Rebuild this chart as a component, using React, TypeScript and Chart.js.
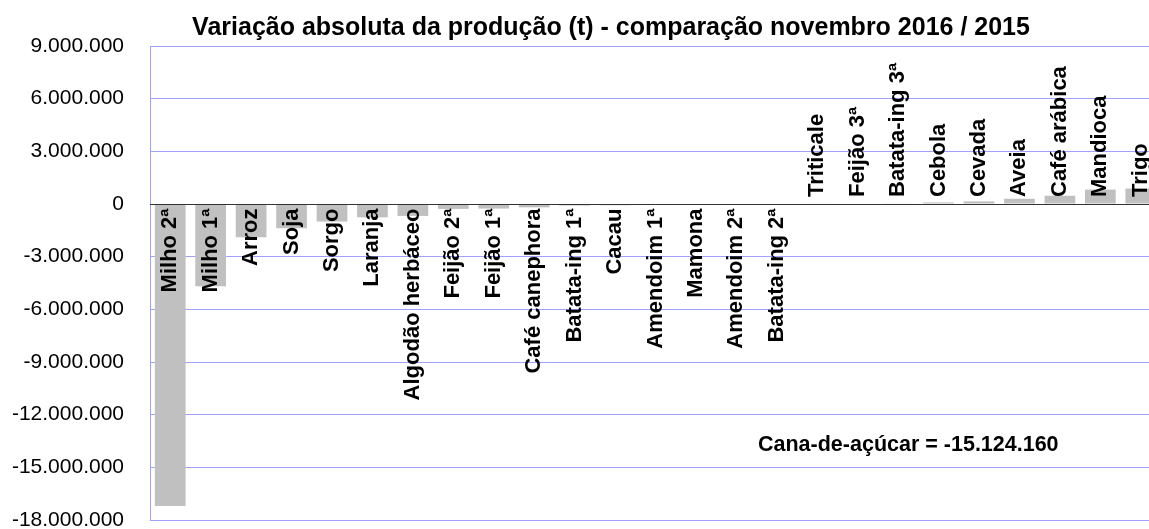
import React, { useEffect, useRef } from "react";
import { Chart, registerables } from "chart.js";

Chart.register(...registerables);

const categories: string[] = [
  "Milho 2ª", "Milho 1ª", "Arroz", "Soja", "Sorgo", "Laranja", "Algodão herbáceo",
  "Feijão 2ª", "Feijão 1ª", "Café canephora", "Batata-ing 1ª", "Cacau", "Amendoim 1ª",
  "Mamona", "Amendoim 2ª", "Batata-ing 2ª", "Triticale", "Feijão 3ª", "Batata-ing 3ª",
  "Cebola", "Cevada", "Aveia", "Café arábica", "Mandioca", "Trigo",
];

const variation: number[] = [
  -17200000, -4690000, -1900000, -1380000, -1000000, -760000, -680000,
  -280000, -260000, -190000, -90000, -70000, -60000,
  -30000, -25000, -20000, 25000, 30000, 35000,
  90000, 150000, 300000, 470000, 820000, 880000,
];

const yMin = -18000000;
const yMax = 9000000;
const yStep = 3000000;

const titleText = "Variação absoluta da produção (t) - comparação novembro 2016 / 2015";
const noteText = "Cana-de-açúcar = -15.124.160";

const FONT = '"Liberation Sans", Arial, sans-serif';

function fmt(v: number): string {
  const s = Math.abs(Math.round(v)).toString().replace(/\B(?=(\d{3})+(?!\d))/g, ".");
  return (v < 0 ? "-" : "") + s;
}

const labelPlugin = {
  id: "customLabels",
  afterDatasetsDraw(chart: any) {
    const ctx = chart.ctx;
    const meta = chart.getDatasetMeta(0);
    const yScale = chart.scales.y;
    const zeroY = yScale.getPixelForValue(0);
    ctx.save();
    // zero line on top
    ctx.strokeStyle = "#333333";
    ctx.lineWidth = 1;
    ctx.beginPath();
    ctx.moveTo(chart.chartArea.left, Math.round(zeroY) + 0.5);
    ctx.lineTo(chart.chartArea.right, Math.round(zeroY) + 0.5);
    ctx.stroke();

    ctx.fillStyle = "#000000";
    ctx.font = `bold 22px ${FONT}`;
    ctx.textBaseline = "alphabetic";
    meta.data.forEach((el: any, i: number) => {
      const v = variation[i];
      ctx.save();
      if (v < 0) {
        ctx.translate(el.x + 6, zeroY + 4.5);
        ctx.rotate(-Math.PI / 2);
        ctx.textAlign = "right";
      } else {
        ctx.translate(el.x + 6, zeroY - 7);
        ctx.rotate(-Math.PI / 2);
        ctx.textAlign = "left";
      }
      ctx.fillText(categories[i], 0, 0);
      ctx.restore();
    });

    ctx.textAlign = "center";
    ctx.font = `bold 25px ${FONT}`;
    ctx.fillText(titleText, 611, 35);

    ctx.textAlign = "left";
    ctx.font = `bold 21.5px ${FONT}`;
    ctx.fillText(noteText, 758, 451);
    ctx.restore();
  },
};

export default function App() {
  const ref = useRef<HTMLCanvasElement | null>(null);
  useEffect(() => {
    if (!ref.current) return;
    const chart = new Chart(ref.current, {
      type: "bar",
      data: {
        labels: categories,
        datasets: [
          {
            data: variation,
            backgroundColor: "#c0c0c0",
            borderWidth: 0,
            barPercentage: 0.76,
            categoryPercentage: 1,
          },
        ],
      },
      options: {
        animation: false,
        responsive: false,
        maintainAspectRatio: false,
        layout: { padding: { top: 46, bottom: 9, left: 0, right: 0 } },
        plugins: {
          legend: { display: false },
          title: { display: false },
          tooltip: { enabled: false },
        },
        scales: {
          x: { display: false },
          y: {
            min: yMin,
            max: yMax,
            ticks: {
              stepSize: yStep,
              padding: 26,
              color: "#000000",
              font: { family: FONT, size: 21 },
              callback: (v: any) => fmt(Number(v)),
            },
            grid: {
              color: "rgb(160,160,255)",
              lineWidth: 1,
              drawTicks: false,
            },
            border: { display: true, color: "rgb(160,160,255)" },
            afterFit: (scale: any) => {
              scale.width = 150;
              scale.paddingTop = 0;
              scale.paddingBottom = 0;
            },
          },
        },
      },
      plugins: [labelPlugin],
    });
    return () => chart.destroy();
  }, []);
  return (
    <div style={{ position: "absolute", left: 0, top: 0, width: 1149, height: 529, overflow: "hidden", background: "#fff" }}>
      <canvas ref={ref} width={1161} height={529} style={{ width: 1161, height: 529, display: "block" }} />
    </div>
  );
}
